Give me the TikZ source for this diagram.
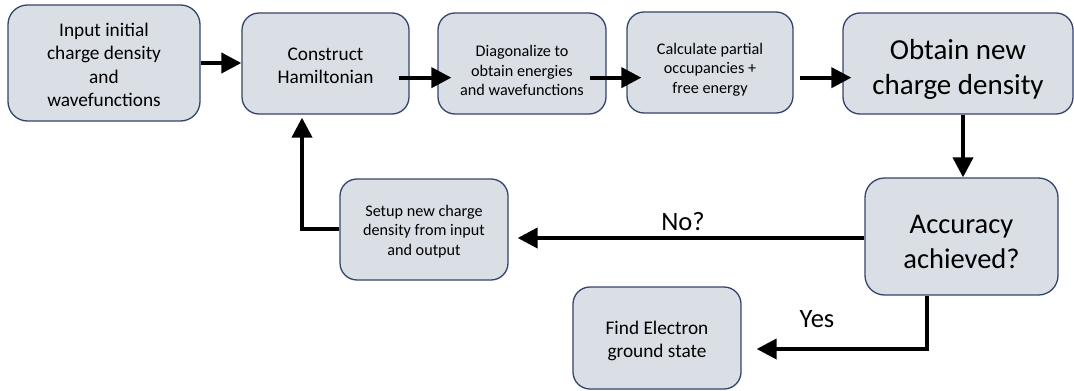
\documentclass[tikz,border=0pt]{standalone}
\usepackage{fontspec}
\setmainfont{Carlito}
\usetikzlibrary{arrows.meta,calc}
\definecolor{boxfill}{RGB}{218,223,230}
\definecolor{boxline}{RGB}{52,68,108}
\begin{document}
\begin{tikzpicture}[x=1pt,y=-1pt,
  box/.style={draw=boxline, line width=1.3pt, fill=boxfill, rounded corners=17pt, inner sep=0pt},
  txt/.style={align=center, inner sep=0pt, text=black},
  fmid/.style={font=\fontsize{19.3}{23.3}\selectfont},
  fsmall/.style={font=\fontsize{16.2}{19.5}\selectfont},
  fbig/.style={font=\fontsize{29}{35}\selectfont},
  flab/.style={font=\fontsize{26.5}{32}\selectfont, inner sep=0pt, anchor=base},
  flow/.style={line width=4pt, line join=miter, -{Triangle[length=20pt,width=20pt]}}]
\useasboundingbox (0,0) rectangle (1074,391);

% boxes
\node[box, rounded corners=19.5pt, minimum width=192pt, minimum height=116pt] (b1) at (104,63) {};
\node[box, minimum width=167pt, minimum height=101pt] (b2) at (325.5,63.5) {};
\node[box, minimum width=168pt, minimum height=101pt] (b3) at (522,63.5) {};
\node[box, minimum width=166pt, minimum height=101pt] (b4) at (710,62.5) {};
\node[box, minimum width=230pt, minimum height=101pt] (b5) at (958,63.5) {};
\node[box, rounded corners=19.5pt, minimum width=193pt, minimum height=117pt] (acc) at (961.5,236.5) {};
\node[box, minimum width=168pt, minimum height=101pt] (setup) at (424,229.5) {};
\node[box, minimum width=168pt, minimum height=102pt] (find) at (657,338) {};

% texts
\node[txt, fmid] (t1) at ([yshift=-2pt]b1.center) {Input initial\\charge density\\and\\wavefunctions};
\node[txt, fmid] (t2) at ([yshift=-2pt]b2.center) {Construct\\Hamiltonian};
\node[txt, fsmall] (t3) at ([yshift=-7pt]b3.center) {Diagonalize to\\obtain energies\\and wavefunctions};
\node[txt, fsmall] (t4) at ([yshift=-7pt]b4.center) {Calculate partial\\occupancies +\\free energy};
\node[txt, fbig] (t5) at ([yshift=-6pt]b5.center) {Obtain new\\charge density};
\node[txt, fbig, font=\fontsize{28.5}{35}\selectfont] (tacc) at ([yshift=-5pt]acc.center) {Accuracy\\achieved?};
\node[txt, fsmall] (tsetup) at ([yshift=-2pt]setup.center) {Setup new charge\\density from input\\and output};
\node[txt, fmid] (tfind) at ([yshift=-3pt]find.center) {Find Electron\\ground state};

% connectors
\draw[flow] (b1.east) -- (b1.east -| b2.west);
\draw[flow] ($(b2.south east)+(-11,-37)$) -- ($(b3.south west)+(14,-37)$);
\draw[flow] ($(b3.south east)+(-17,-37)$) -- ($(b4.south west)+(15,-36)$);
\draw[flow] ($(b4.south east)+(6,-36)$) -- ($(b5.south west)+(9,-37)$);
\draw[flow] ($(b5.south)+(5,0)$) -- ($(acc.north)+(1.5,0)$);
\draw[flow] ($(acc.west)+(0,1.5)$) -- ($(setup.east)+(9,8.5)$);
\draw[flow] ($(setup.west)+(0,-0.5)$) -| ($(b2.south)+(-23.5,3)$);
\draw[flow] ($(acc.south)+(-34.5,0)$) |- ($(find.east)+(15,11)$);

% labels
\node[flab] (lno) at (683,230) {No?};
\node[flab] (lyes) at (817,327) {Yes};
\end{tikzpicture}
\end{document}
